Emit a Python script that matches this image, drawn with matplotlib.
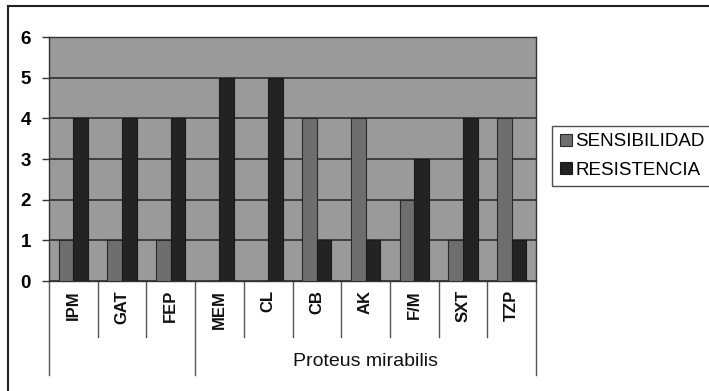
import matplotlib
matplotlib.use("Agg")
import matplotlib.pyplot as plt
from matplotlib.lines import Line2D
import numpy as np

plt.rcParams['font.family'] = ['Liberation Sans', 'DejaVu Sans']

categories = ["IPM", "GAT", "FEP", "MEM", "CL", "CB", "AK", "F/M", "SXT", "TZP"]
sensibilidad = [1, 1, 1, 0, 0, 4, 4, 2, 1, 4]
resistencia = [4, 4, 4, 5, 5, 1, 1, 3, 4, 1]
series_names = ["SENSIBILIDAD", "RESISTENCIA"]
group_label = "Proteus mirabilis"
group_breaks = [-0.5, 2.5, 9.5]
y_ticks = [0, 1, 2, 3, 4, 5, 6]

W, H = 709, 391
fig = plt.figure(figsize=(W / 100, H / 100), dpi=100)
fig.patch.set_facecolor("white")

left, right, top, bottom = 49, 536, 37, 281
ax = fig.add_axes([left / W, 1 - bottom / H, (right - left) / W, (bottom - top) / H])
ax.set_facecolor("#9a9a9a")

x = np.arange(len(categories))
bw = 0.30
ax.bar(x - bw / 2, sensibilidad, width=bw, color="#6e6e6e", edgecolor="#2a2a2a",
       linewidth=0.8, label=series_names[0], zorder=3)
ax.bar(x + bw / 2, resistencia, width=bw, color="#232323", edgecolor="#1a1a1a",
       linewidth=0.8, label=series_names[1], zorder=3)

ax.set_xlim(-0.5, len(categories) - 0.5)
ax.set_ylim(0, 6)
ax.set_yticks(y_ticks)
ax.set_yticklabels([str(v) for v in y_ticks], fontsize=13.5, fontweight="bold")
ax.tick_params(axis="y", length=5, width=1, pad=8, color="#333333")
ax.yaxis.grid(True, color="#2e2e2e", linewidth=1.2, zorder=1)
ax.set_axisbelow(True)
ax.set_xticks([])
for s in ax.spines.values():
    s.set_color("#333333")
    s.set_linewidth(1.0)

# multi-level category axis
trans = ax.get_xaxis_transform()
short_y = -56 / (bottom - top)
long_y = -94 / (bottom - top)
for b in np.arange(-0.5, len(categories), 1.0):
    yend = long_y if b in group_breaks else short_y
    ax.add_line(Line2D([b, b], [0, yend], transform=trans, color="#555555",
                       linewidth=1.0, clip_on=False))
for xi, c in zip(x, categories):
    ax.annotate(c, (xi, 0), xycoords=trans, xytext=(0, -9), textcoords="offset pixels",
                rotation=90, ha="center", va="top", fontsize=12, fontweight="bold",
                color="#111111")
ax.text((group_breaks[1] + group_breaks[2]) / 2, -81 / (bottom - top), group_label,
        transform=trans, ha="center", va="center", fontsize=14, color="#111111")

# legend
leg = fig.legend(loc="upper left", bbox_to_anchor=(552 / W, 1 - 126 / H),
                 fontsize=13.5, frameon=True, fancybox=False, borderaxespad=0,
                 handlelength=0.65, handleheight=0.65, handletextpad=0.2,
                 borderpad=0.4, labelspacing=0.6)
leg.get_frame().set_edgecolor("#222222")
leg.get_frame().set_linewidth(1.0)

# outer chart frame
fig.add_artist(Line2D([8 / W, 1], [1 - 6 / H, 1 - 6 / H], transform=fig.transFigure,
                      color="#222222", linewidth=1.5))
fig.add_artist(Line2D([8 / W, 8 / W], [0, 1 - 6 / H], transform=fig.transFigure,
                      color="#222222", linewidth=1.5))

fig.savefig("out.png", dpi=100)
